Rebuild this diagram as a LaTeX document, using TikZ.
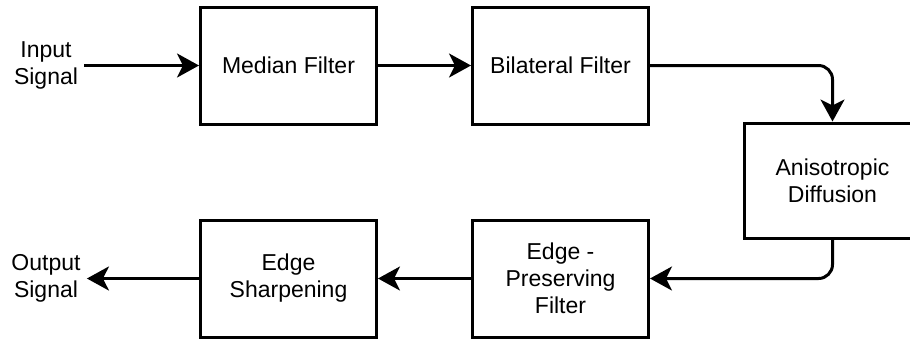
\documentclass[tikz,border=0pt]{standalone}
\usepackage{fontspec}
\setmainfont{Liberation Sans}
\usetikzlibrary{positioning,arrows.meta}

\begin{document}
\begin{tikzpicture}[
  x=0.5pt, y=-0.5pt,
  stage/.style={rectangle, draw, line width=1.5pt, minimum width=88pt, minimum height=58.5pt, align=center},
  signal/.style={align=center, inner sep=3pt},
  flow/.style={-{Stealth[length=11pt, width=12pt, inset=3pt]}, line width=1.5pt},
  font=\fontsize{11.5}{13.5}\selectfont
]
\useasboundingbox (0,0) rectangle (910,339);

\node[stage] (median) at (288.5,65.5) {Median Filter};
\node[stage, right of=median, node distance=136pt] (bilateral) {Bilateral Filter};
\node[stage, right of=bilateral, node distance=136pt, yshift=-57.5pt, minimum height=57.5pt] (aniso) {Anisotropic\\Diffusion};
\node[stage, below of=bilateral, node distance=106.5pt] (preserve) {Edge -\\Preserving\\Filter};
\node[stage, left of=preserve, node distance=136pt] (sharpen) {Edge\\Sharpening};

\node[signal, left of=median, node distance=121.25pt] (input) {Input\\Signal};
\node[signal, left of=sharpen, node distance=121.25pt] (output) {Output\\Signal};

\draw[flow] (input) -- (median);
\draw[flow] (median) -- (bilateral);
\draw[flow, rounded corners=7pt] (bilateral.east) -| (aniso.north);
\draw[flow, rounded corners=7pt] (aniso.south) |- (preserve.east);
\draw[flow] (preserve) -- (sharpen);
\draw[flow] (sharpen) -- (output);
\end{tikzpicture}
\end{document}
